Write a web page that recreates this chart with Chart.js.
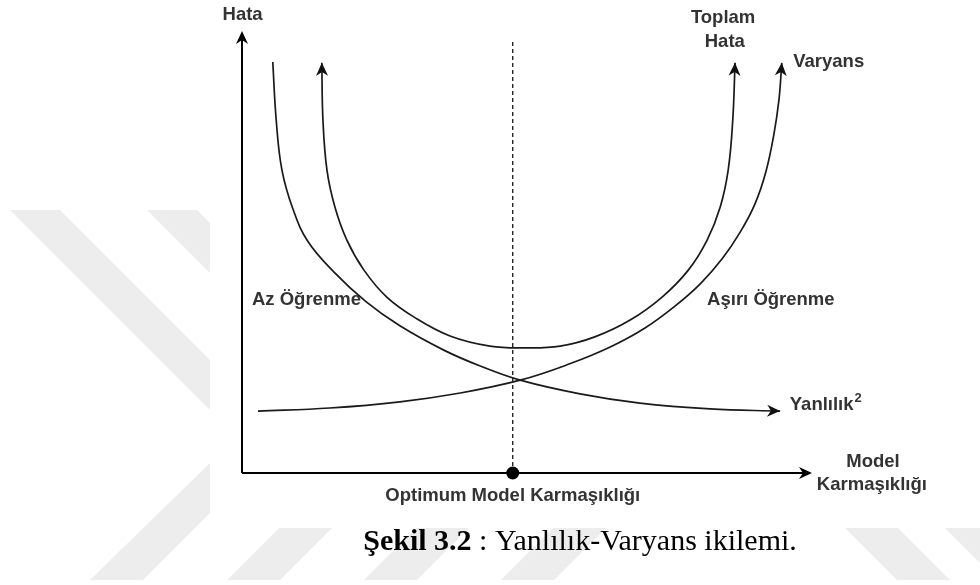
<!DOCTYPE html>
<html>
<head>
<meta charset="utf-8">
<script src="https://cdn.jsdelivr.net/npm/chart.js@4.4.1/dist/chart.umd.min.js"></script>
<style>
  html, body { margin: 0; padding: 0; background: #ffffff; }
  #wrap { width: 980px; height: 585px; }
</style>
</head>
<body>
<div id="wrap"><canvas id="graphicFirst" width="980" height="585"></canvas></div>
<script>
// Yanlilik-Varyans ikilemi (sekil 3.2)
// x: model karmasikligi (0-100), y: hata (0-100)

const biasX  = [5.4, 6.0, 7.0, 9.0, 11.6, 16.1, 21.8, 27.7, 35.4, 41.8, 48.8, 59.3, 69.8, 82.1, 94.4];
const biasY  = [93.0, 79.9, 68.6, 59.5, 52.3, 45.5, 38.7, 33.3, 27.8, 24.2, 21.0, 17.9, 15.8, 14.5, 14.0];

const varX   = [2.8, 15.4, 27.7, 38.3, 48.8, 57.5, 64.6, 70.7, 76.0, 80.4, 84.2, 87.4, 90.0, 91.9, 93.3, 94.2, 94.7];
const varY   = [14.0, 14.7, 16.1, 18.1, 21.0, 24.7, 28.5, 32.8, 37.8, 42.8, 48.4, 54.5, 60.9, 68.1, 76.5, 84.4, 92.8];

const totalX = [14.0, 14.2, 14.9, 16.3, 18.4, 21.4, 25.4, 30.4, 36.5, 43.5, 49.7, 55.8, 61.9, 68.1, 73.7, 78.3, 81.6, 83.9, 85.3, 86.1, 86.5];
const totalY = [92.8, 79.9, 68.6, 60.2, 52.7, 45.9, 39.8, 35.1, 31.0, 28.7, 28.3, 28.7, 30.8, 34.6, 39.8, 45.9, 52.7, 60.2, 68.6, 79.9, 92.8];

const optimumX = 47.5;
const optimumTop = 97.5;

// metinler (konumlar veri biriminde)
const labelTexts = ['Hata', 'Toplam', 'Hata', 'Varyans', 'Az Öğrenme', 'Aşırı Öğrenme', 'Model', 'Karmaşıklığı', 'Optimum Model Karmaşıklığı'];
const labelPos = [
  {x: 0.1,  y: 103.6, align: 'center'},
  {x: 84.4, y: 102.9, align: 'center'},
  {x: 84.7, y: 97.5,  align: 'center'},
  {x: 96.7, y: 93.0,  align: 'left'},
  {x: 1.75, y: 39.1,  align: 'left'},
  {x: 81.6, y: 39.1,  align: 'left'},
  {x: 110.7, y: 2.5,  align: 'center'},
  {x: 110.5, y: -2.7, align: 'center'},
  {x: optimumX, y: -5.2, align: 'center'}
];
const biasLabel = 'Yanlılık';
const captionBold = 'Şekil 3.2';
const captionRest = ' : Yanlılık-Varyans ikilemi.';

const labelFont = 'bold 18.5px "Liberation Sans", Arial, sans-serif';

function toPoints(xs, ys){
  return xs.map((x, i) => ({x: x, y: ys[i]}));
}

function drawArrow(ctx, tx, ty, fx, fy){
  let a = Math.atan2(ty - fy, tx - fx);
  let len = 13, half = 6;
  let dx = Math.cos(a), dy = Math.sin(a);
  let px = -dy, py = dx;
  ctx.beginPath();
  ctx.moveTo(tx, ty);
  ctx.lineTo(tx - len*dx + half*px, ty - len*dy + half*py);
  ctx.lineTo(tx - len*0.7*dx, ty - len*0.7*dy);
  ctx.lineTo(tx - len*dx - half*px, ty - len*dy - half*py);
  ctx.closePath();
  ctx.fill();
}

//-----WATERMARK (sayfa arka plani)
const watermark = {
  id: 'watermark',
  beforeDraw(chart){
    const ctx = chart.ctx;
    ctx.save();
    ctx.fillStyle = '#ffffff';
    ctx.fillRect(0, 0, chart.width, chart.height);
    ctx.fillStyle = '#ededed';
    const polys = [
      [[10,210],[60,210],[210,360],[210,410]],
      [[147,210],[197,210],[210,223],[210,273]],
      [[210,463],[210,513],[143,580],[90,580]],
      [[227,580],[280,580],[332,528],[279,528]],
      [[364,580],[417,580],[469,528],[416,528]],
      [[501,580],[554,580],[606,528],[553,528]],
      [[845,528],[898,528],[950,580],[897,580]],
      [[945,528],[998,528],[1050,580],[997,580]]
    ];
    polys.forEach(p => {
      ctx.beginPath();
      ctx.moveTo(p[0][0], p[0][1]);
      for (let i = 1; i < p.length; i++) ctx.lineTo(p[i][0], p[i][1]);
      ctx.closePath();
      ctx.fill();
    });
    ctx.fillStyle = '#ffffff';
    ctx.fillRect(210, 0, 770, 528);
    ctx.restore();
  }
};

//-----AXES, ARROWS, TEXT
const decor = {
  id: 'decor',
  afterDatasetsDraw(chart){
    const ctx = chart.ctx;
    const sx = chart.scales.x, sy = chart.scales.y;
    const x0 = sx.getPixelForValue(0), x1 = sx.getPixelForValue(100);
    const y0 = sy.getPixelForValue(0), y1 = sy.getPixelForValue(100);
    ctx.save();
    ctx.strokeStyle = '#000';
    ctx.fillStyle = '#000';
    ctx.lineWidth = 2;
    ctx.beginPath();
    ctx.moveTo(x0, y0); ctx.lineTo(x0, y1 + 6);
    ctx.moveTo(x0, y0); ctx.lineTo(x1 - 6, y0);
    ctx.stroke();
    drawArrow(ctx, x0, y1, x0, y0);
    drawArrow(ctx, x1, y0, x0, y0);

    // curve arrowheads
    const ends = [[0, 'end'], [1, 'end'], [2, 'start'], [2, 'end']];
    ends.forEach(e => {
      const pts = chart.getDatasetMeta(e[0]).data;
      let p, q;
      if (e[1] === 'end'){
        p = pts[pts.length - 1]; q = pts[pts.length - 2];
        if (p.cp1x !== undefined && Math.hypot(p.cp1x - p.x, p.cp1y - p.y) > 1) q = {x: p.cp1x, y: p.cp1y};
      } else {
        p = pts[0]; q = pts[1];
        if (p.cp2x !== undefined && Math.hypot(p.cp2x - p.x, p.cp2y - p.y) > 1) q = {x: p.cp2x, y: p.cp2y};
      }
      ctx.fillStyle = '#111';
      drawArrow(ctx, p.x, p.y, q.x, q.y);
    });

    ctx.fillStyle = '#333';
    ctx.font = labelFont;
    ctx.textBaseline = 'middle';
    labelTexts.forEach((t, i) => {
      ctx.textAlign = labelPos[i].align;
      ctx.fillText(t, sx.getPixelForValue(labelPos[i].x), sy.getPixelForValue(labelPos[i].y));
    });
    // Yanlilik^2
    const bx = sx.getPixelForValue(96.1), by = sy.getPixelForValue(15.4);
    ctx.textAlign = 'left';
    ctx.fillText(biasLabel, bx, by);
    const bw = ctx.measureText(biasLabel).width;
    ctx.font = 'bold 13px "Liberation Sans", Arial, sans-serif';
    ctx.fillText('2', bx + bw + 1, by - 7);

    // caption
    ctx.fillStyle = '#000';
    ctx.textBaseline = 'middle';
    ctx.font = 'bold 30px "Liberation Serif", "Times New Roman", serif';
    const cw1 = ctx.measureText(captionBold).width;
    ctx.font = '30px "Liberation Serif", "Times New Roman", serif';
    const cw2 = ctx.measureText(captionRest).width;
    const cx = sx.getPixelForValue(59.3) - (cw1 + cw2) / 2;
    const cy = sy.getPixelForValue(-15.6);
    ctx.textAlign = 'left';
    ctx.font = 'bold 30px "Liberation Serif", "Times New Roman", serif';
    ctx.fillText(captionBold, cx, cy);
    ctx.font = '30px "Liberation Serif", "Times New Roman", serif';
    ctx.fillText(captionRest, cx + cw1, cy);
    ctx.restore();
  }
};

const curveStyle = {
  borderColor: '#1a1a1a',
  borderWidth: 1.7,
  pointRadius: 0,
  fill: false,
  tension: 0.4,
  clip: false
};

const ctx = document.getElementById('graphicFirst').getContext('2d');
const chart1 = new Chart(ctx, {
  type: 'line',
  data: {
    datasets: [
      Object.assign({label: 'Yanlılık²', data: toPoints(biasX, biasY)}, curveStyle),
      Object.assign({label: 'Varyans', data: toPoints(varX, varY)}, curveStyle),
      Object.assign({label: 'Toplam Hata', data: toPoints(totalX, totalY)}, curveStyle),
      {
        label: 'Optimum',
        data: [{x: optimumX, y: 0}, {x: optimumX, y: optimumTop}],
        borderColor: '#000',
        borderWidth: 1.2,
        borderDash: [4, 3],
        pointRadius: [6.5, 0],
        pointBackgroundColor: '#000',
        pointBorderColor: '#000',
        pointBorderWidth: 0,
        clip: false
      }
    ]
  },
  options: {
    responsive: false,
    animation: false,
    devicePixelRatio: 1,
    layout: { padding: { left: 242, right: 168, top: 31, bottom: 112 } },
    plugins: { legend: { display: false }, tooltip: { enabled: false } },
    scales: {
      x: { type: 'linear', min: 0, max: 100, display: false },
      y: { type: 'linear', min: 0, max: 100, display: false }
    }
  },
  plugins: [watermark, decor]
});
</script>
</body>
</html>
